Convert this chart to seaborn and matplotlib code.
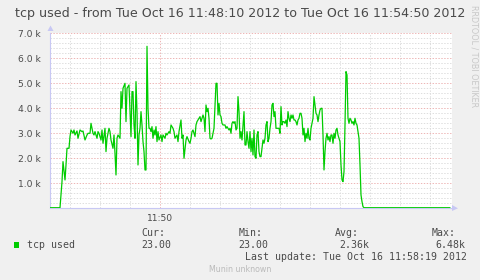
import matplotlib
matplotlib.use("Agg")
import matplotlib.pyplot as plt
from matplotlib.patches import Polygon
import numpy as np
import pandas as pd
import seaborn as sns

# ---- data (seconds after 11:48:10, tcp used) ----
seconds = [0, 10, 12, 13, 15, 16, 17, 19, 20, 21, 23, 24, 25, 27, 28, 30, 32, 33, 35, 37, 38, 40,
           41, 43, 44, 45, 47, 48, 49, 51, 52, 53, 55, 56, 57, 59, 60, 61, 63, 64, 65, 66, 67, 68,
           70, 71, 72, 73, 75, 76, 77, 79, 80, 81, 82, 83, 84, 85, 86, 87, 88, 89, 90, 91, 92, 93,
           94, 95, 96, 97, 98, 99, 100, 101, 102, 103, 104, 105, 106, 107, 108, 109, 111, 112, 113,
           115, 116, 117, 119, 120, 121, 123, 124, 125, 127, 128, 129, 131, 132, 133, 134, 136, 137,
           139, 140, 141, 142, 143, 145, 146, 147, 149, 150, 151, 153, 154, 155, 156, 157, 158, 159,
           160, 161, 162, 164, 165, 166, 167, 168, 169, 170, 171, 172, 173, 175, 176, 177, 179, 180,
           181, 182, 183, 184, 185, 186, 187, 188, 189, 190, 191, 192, 193, 194, 195, 196, 197, 198,
           199, 200, 201, 202, 203, 204, 205, 206, 207, 208, 209, 210, 211, 212, 213, 214, 215, 216,
           217, 218, 219, 220, 221, 222, 223, 224, 225, 226, 228, 229, 230, 231, 232, 233, 234, 235,
           236, 237, 238, 239, 240, 241, 242, 243, 244, 245, 246, 247, 248, 249, 250, 251, 252, 253,
           254, 255, 256, 257, 258, 259, 260, 261, 262, 263, 264, 265, 266, 267, 268, 269, 270, 271,
           272, 273, 274, 275, 276, 277, 278, 279, 280, 281, 282, 283, 284, 285, 286, 287, 288, 289,
           290, 291, 292, 293, 294, 295, 296, 297, 298, 299, 300, 301, 302, 303, 304, 305, 306, 307,
           308, 309, 310, 311, 312, 313, 314, 400]
tcp_used = [23, 23, 1067, 1867, 1133, 1733, 2400, 2400, 2867, 3133, 3000, 3133, 2933, 3093, 2800,
            3133, 3067, 3093, 2733, 2933, 3000, 3000, 3400, 3000, 2933, 3067, 2800, 3067, 3000,
            2733, 3133, 2600, 3200, 2267, 2800, 3200, 3067, 2733, 2400, 2933, 2200, 1333, 2800,
            2933, 2800, 4667, 4000, 4800, 5000, 3467, 4800, 4933, 3867, 2867, 4667, 4667, 3333,
            2800, 5067, 3867, 1733, 2933, 3200, 3867, 3333, 2667, 2267, 1533, 1533, 6480, 4000,
            3200, 3200, 3067, 3267, 2800, 3133, 2933, 3267, 2667, 3067, 2733, 2933, 2667, 2933,
            2800, 3000, 2933, 3067, 3000, 3333, 3200, 3067, 2800, 2933, 2667, 3067, 3533, 2800,
            2933, 2000, 2733, 2867, 2667, 2600, 2800, 3067, 3133, 2867, 3333, 3467, 3600, 3667,
            3467, 3733, 3600, 3067, 4133, 3867, 4000, 3600, 2800, 2773, 2800, 3200, 4133, 5000,
            5000, 3733, 4200, 3733, 3667, 3400, 3333, 3333, 3200, 3267, 3133, 3200, 3000, 3400,
            3467, 3400, 3467, 3133, 3200, 4467, 3867, 2800, 3067, 2733, 3333, 3867, 2533, 2533,
            3067, 2667, 2400, 3067, 2267, 2800, 2133, 3133, 2067, 2000, 2933, 3067, 2267, 2067,
            2067, 2400, 2733, 2600, 2800, 3333, 3467, 2667, 2800, 3200, 3467, 4133, 4200, 3667,
            3867, 3200, 3200, 3200, 3000, 4067, 3333, 3467, 3467, 3400, 3533, 3267, 3867, 3600,
            3467, 3733, 3600, 3733, 3533, 3533, 3467, 3333, 3533, 3600, 3800, 3800, 3600, 2933,
            3200, 2667, 3000, 2800, 3200, 2800, 2733, 3200, 3400, 3600, 4467, 4133, 3800, 3733,
            3467, 3733, 3933, 4000, 4000, 2933, 1533, 2267, 2800, 3000, 2733, 2867, 2667, 2933,
            2933, 2600, 3000, 2800, 3133, 3200, 2933, 2800, 2667, 1733, 1133, 1067, 1467, 3333,
            5467, 5333, 3600, 3400, 3600, 3533, 3400, 3467, 3333, 3600, 3400, 3333, 3067, 2800,
            1733, 533, 267, 67, 23, 23]

y_ticks = [1000, 2000, 3000, 4000, 5000, 6000, 7000]
y_tick_labels = ["1.0 k", "2.0 k", "3.0 k", "4.0 k", "5.0 k", "6.0 k", "7.0 k"]
x_major_ticks = [110]
x_tick_labels = ["11:50"]
x_minor_ticks = [20, 50, 80, 140, 170, 200, 230, 260, 290, 320, 350, 380]

title = "tcp used - from Tue Oct 16 11:48:10 2012 to Tue Oct 16 11:54:50 2012"
series_name = "tcp used"
stat_names = ["Cur:", "Min:", "Avg:", "Max:"]
stat_values = ["23.00", "23.00", "2.36k", "6.48k"]
last_update = "Last update: Tue Oct 16 11:58:19 2012"
footer = "Munin unknown"
watermark = "RRDTOOL / TOBI OETIKER"

# ---- style ----
sns.set_theme(style="white")
plt.rcParams["font.family"] = ["DejaVu Sans"]

W, H = 481, 280
BG = "#F0F0F0"
TXT = "#4a4a4a"
LINE = "#00CC00"
MAJ = "#EDB4B4"
MIN = "#DDDDDD"
AXC = "#C8C8F4"

fig = plt.figure(figsize=(W / 100, H / 100), dpi=100, facecolor=BG)
L, R, T, B = 50, 452, 33.3, 208.3
ax = fig.add_axes([L / W, 1 - B / H, (R - L) / W, (B - T) / H])
ax.set_facecolor("white")

df = pd.DataFrame({"seconds": seconds, "value": tcp_used})
sns.lineplot(data=df, x="seconds", y="value", color=LINE, linewidth=0.9, ax=ax,
             zorder=5, estimator=None)

ax.set_xlim(0, 402)
ax.set_ylim(0, 7000)

ax.set_yticks(y_ticks)
ax.set_yticklabels(y_tick_labels)
ax.set_yticks(np.arange(200, 7000, 200), minor=True)
ax.set_xticks(x_major_ticks)
ax.set_xticklabels(x_tick_labels)
ax.set_xticks(x_minor_ticks, minor=True)

dots = (0, (1.4, 1.6))
ax.grid(which="minor", color=MIN, linestyle=dots, linewidth=0.7, zorder=1)
ax.grid(which="major", color=MAJ, linestyle=dots, linewidth=0.7, zorder=2)
ax.set_axisbelow(True)

ax.tick_params(axis="both", which="both", length=2, width=0.7, direction="out",
               colors=TXT, labelsize=6.6, pad=4.3)
ax.tick_params(axis="y", which="minor", color=MIN)
ax.tick_params(axis="y", which="major", color=MAJ)
ax.tick_params(axis="x", which="minor", color=MIN)
ax.tick_params(axis="x", which="major", color=MAJ, pad=2.2)
for lab in ax.get_xticklabels() + ax.get_yticklabels():
    lab.set_color(TXT)
ax.set_xlabel("")
ax.set_ylabel("")

for s in ["top", "right"]:
    ax.spines[s].set_visible(False)
for s in ["left", "bottom"]:
    ax.spines[s].set_color(AXC)
    ax.spines[s].set_linewidth(0.8)

def px(x, y):
    return (x / W, 1 - y / H)

# axis arrows
fig.add_artist(Polygon([px(47.5, 31), px(53.5, 31), px(50.5, 25.5)], closed=True,
                       transform=fig.transFigure, color=AXC, lw=0))
fig.add_artist(Polygon([px(452, 205), px(452, 211), px(458, 208.3)], closed=True,
                       transform=fig.transFigure, color=AXC, lw=0))

# title
fig.text(*px(240, 13), title, ha="center", va="center", fontsize=9.1, color=TXT)

# watermark
fig.text(*px(474, 5), watermark, ha="center", va="top", rotation=270,
         fontsize=5.8, color="#C8C8C8")

# legend
mono = "DejaVu Sans Mono"
fig.add_artist(Polygon([px(14, 242.3), px(19.3, 242.3), px(19.3, 247.6), px(14, 247.6)],
                       closed=True, transform=fig.transFigure, color=LINE, lw=0))
fig.text(*px(26.7, 245.3), series_name, ha="left", va="center", fontsize=7.1,
         family=mono, color=TXT)
name_x = [141.7, 239.0, 335.0, 432.0]
value_right = [171.4, 268.7, 369.5, 465.8]
for nx, vr, n, v in zip(name_x, value_right, stat_names, stat_values):
    fig.text(*px(nx, 233.5), n, ha="left", va="center", fontsize=7.1, family=mono, color=TXT)
    fig.text(*px(vr, 245.3), v, ha="right", va="center", fontsize=7.1, family=mono, color=TXT)
fig.text(*px(466.7, 257.5), last_update, ha="right", va="center", fontsize=7.1,
         family=mono, color=TXT)
fig.text(*px(240.5, 269.5), footer, ha="center", va="center", fontsize=5.7,
         color="#BBBBBB")

fig.savefig("out.png", dpi=100, facecolor=BG)
